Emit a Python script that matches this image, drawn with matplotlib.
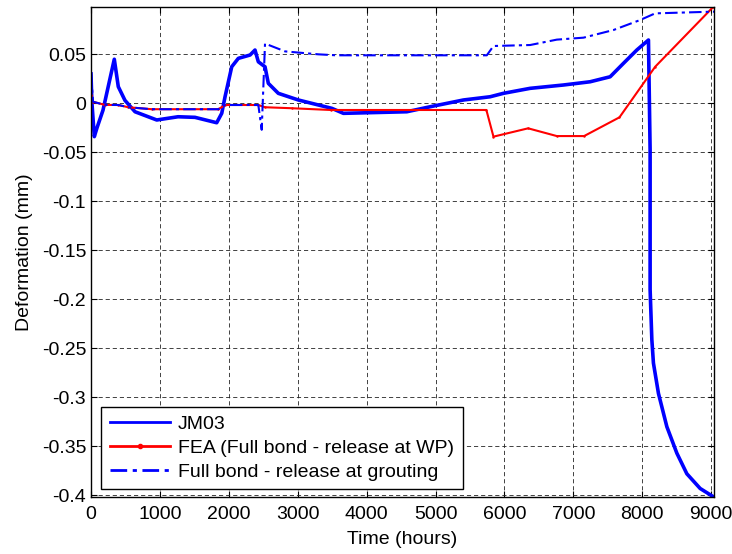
import matplotlib
matplotlib.use("Agg")
import matplotlib.pyplot as plt

jm03_t = [0, 12, 48, 87, 174, 338, 396, 493, 639, 954, 1263, 1509, 1824, 1897,
          1945, 2042, 2138, 2308, 2380, 2428, 2525, 2573, 2718, 3009, 3494,
          3662, 4582, 4920, 5403, 5791, 5984, 6372, 6855, 7242, 7533, 7726,
          7920, 8089, 8113, 8113, 8138, 8161, 8234, 8356, 8501, 8646, 8839,
          9032]
jm03_d = [0.03, 0.002, -0.034, -0.025, -0.007, 0.045, 0.017, 0.003, -0.0086,
          -0.017, -0.0137, -0.0143, -0.0198, -0.0102, 0.0067, 0.0373, 0.0459,
          0.0493, 0.0544, 0.0424, 0.0373, 0.0204, 0.0102, 0.0034, -0.0051,
          -0.0102, -0.0086, -0.0035, 0.0034, 0.0067, 0.0102, 0.0153, 0.0187,
          0.0220, 0.0271, 0.0408, 0.0544, 0.0646, -0.048, -0.190, -0.241,
          -0.265, -0.296, -0.330, -0.357, -0.378, -0.393, -0.4015]

# FEA (Full bond - release at WP)
fea_t = [0, 30, 200, 397, 541, 881, 1848, 1945, 2428, 2525, 2913, 3480,
         5737, 5840, 6343, 6759, 7155, 7668, 8186, 9032]
fea_d = [0.0085, 0.0016, -0.0016, -0.0017, -0.004, -0.006, -0.006, -0.0017,
         -0.0017, -0.004, -0.005, -0.0068, -0.0068, -0.034, -0.0255, -0.0334,
         -0.0334, -0.0143, 0.0373, 0.0986]

# Full bond - release at grouting
grout_t = [0, 30, 200, 397, 541, 881, 1848, 1945, 2428, 2477, 2525, 2816,
           3300, 3560, 5743, 5840, 6372, 6759, 7146, 7581, 7968, 8186, 9008,
           9040]
grout_d = [0.031, 0.0016, -0.0016, -0.0017, -0.004, -0.006, -0.006, -0.0017,
           -0.0017, -0.027, 0.061, 0.053, 0.050, 0.049, 0.049, 0.0585, 0.0595,
           0.065, 0.067, 0.0748, 0.085, 0.0918, 0.0935, 0.0935]

xticks = [0, 1000, 2000, 3000, 4000, 5000, 6000, 7000, 8000, 9000]
yticks = [-0.4, -0.35, -0.3, -0.25, -0.2, -0.15, -0.1, -0.05, 0, 0.05]
ytick_labels = ["-0.4", "-0.35", "-0.3", "-0.25", "-0.2", "-0.15", "-0.1",
                "-0.05", "0", "0.05"]

plt.rcParams["font.family"] = ["Liberation Sans", "DejaVu Sans"]
plt.rcParams["font.size"] = 14
plt.rcParams["axes.unicode_minus"] = False

fig = plt.figure(figsize=(7.32, 5.54), dpi=100)
ax = fig.add_axes([91 / 732, 1 - 497.3 / 554, 623 / 732, 490.6 / 554])

ax.plot(jm03_t, jm03_d, color="#0000ff", lw=2.6, label="JM03")
ax.plot(fea_t, fea_d, color="#ff0000", lw=1.5, marker=".", markersize=1.5,
        label="FEA (Full bond - release at WP)")
ax.plot(grout_t, grout_d, color="#0000ff", lw=1.5, linestyle=(0, (6, 2, 1.5, 2)),
        label="Full bond - release at grouting")

ax.set_xlim(0, 9040)
ax.set_ylim(-0.402, 0.0986)
ax.set_xticks(xticks)
ax.set_yticks(yticks)
ax.set_yticklabels(ytick_labels)
ax.tick_params(direction="in", top=True, right=True, length=4, width=0.8,
               labelsize=14)
ax.tick_params(axis="x", pad=6)
ax.grid(True, color="#222222", linestyle=(0, (5, 3.5)), linewidth=0.6)
for sp in ax.spines.values():
    sp.set_linewidth(1.0)

ax.set_xlabel("Time (hours)", fontsize=14, labelpad=6)
ax.set_ylabel("Deformation (mm)", fontsize=14, labelpad=6)

leg = ax.legend(loc="lower left", bbox_to_anchor=(0.016, 0.016),
                borderaxespad=0, borderpad=0.45, handlelength=3.1,
                handletextpad=0.4, labelspacing=0.32,
                fancybox=False, framealpha=1, edgecolor="black",
                fontsize=14, markerscale=4)
leg.get_frame().set_linewidth(1.0)
for line in leg.get_lines():
    line.set_linewidth(2.0)

plt.savefig("out.png", dpi=100)
